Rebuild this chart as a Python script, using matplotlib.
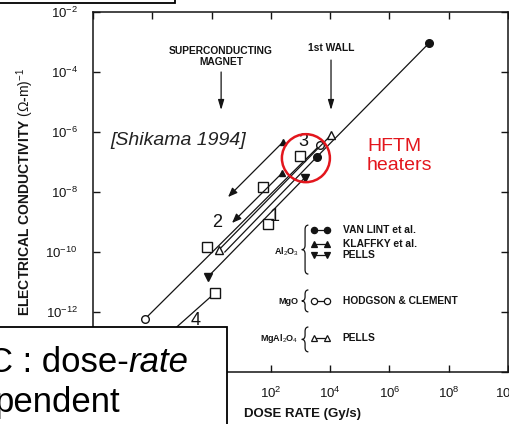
import numpy as np
import matplotlib
matplotlib.use("Agg")
import matplotlib.pyplot as plt
from matplotlib.patches import Rectangle, Ellipse, PathPatch
from matplotlib.path import Path
from matplotlib.text import Annotation
from matplotlib.ticker import FixedLocator, FixedFormatter, NullLocator

plt.rcParams["font.family"] = ["Liberation Sans", "DejaVu Sans"]
plt.rcParams["mathtext.fontset"] = "custom"
plt.rcParams["mathtext.rm"] = "Liberation Sans"
plt.rcParams["mathtext.it"] = "Liberation Sans:italic"
plt.rcParams["mathtext.bf"] = "Liberation Sans:bold"

INK = "#141414"
RED = "#e3161d"

# ---- data: dose rate (Gy/s) vs conductivity (Ohm m)^-1 ----
vanlint_x = [2.8, 3.6e3, 2.2e7]
vanlint_y = [1.0e-10, 1.5e-7, 9.3e-4]
klaffky_a_x = [2.6e2, 3.6]
klaffky_a_y = [4.7e-7, 6.8e-9]
klaffky_b_x = [2.4e2, 4.9]
klaffky_b_y = [4.3e-8, 9.3e-10]
pells_al_x = [0.76, 1.4e3]
pells_al_y = [1.5e-11, 3.0e-8]
hodgson_x = [5.7e-3, 4.6e3]
hodgson_y = [5.9e-13, 3.7e-7]
pells_mgal_x = [1.8, 1.07e4]
pells_mgal_y = [1.2e-10, 7.9e-7]
shikama_x = [9.5e2, 54, 80, 0.70, 1.3]
shikama_y = [1.6e-7, 1.5e-8, 8.5e-10, 1.5e-10, 4.3e-12]
line4_x = [1.3, 1.8e-2]
line4_y = [4.3e-12, 1.0e-13]

num_labels = ["1", "2", "3", "4"]
num_x = [129, 1.5, 1230, 0.30]
num_y = [1.5e-9, 1.0e-9, 5.0e-7, 5.4e-13]

# tick decades; labels hidden under the slide box are left blank
x_exps = [-4, -2, 0, 2, 4, 6, 8, 10]
x_shown = [False, False, False, True, True, True, True, True]
y_exps = [-14, -12, -10, -8, -6, -4, -2]
y_shown = [False, True, True, True, True, True, True]

legend_labels = ["VAN LINT et al.", "KLAFFKY et al.", "PELLS",
                 "HODGSON & CLEMENT", "PELLS"]
legend_markers = ["o", "^", "v", "o", "^"]
legend_filled = [True, True, True, False, False]
group_labels = ["Al$_2$O$_3$", "MgO", "MgAl$_2$O$_4$"]

# ---- figure ----
fig = plt.figure(figsize=(5.09, 4.24), dpi=100)
ax = fig.add_axes([93 / 509, 52 / 424, 415 / 509, 360 / 424])
ax.set_xscale("log")
ax.set_yscale("log")
ax.set_xlim(1e-4, 1e10)
ax.set_ylim(1e-14, 1e-2)

ax.xaxis.set_major_locator(FixedLocator([10.0 ** e for e in x_exps]))
ax.xaxis.set_major_formatter(FixedFormatter(
    [r"$10^{%d}$" % e if s else "" for e, s in zip(x_exps, x_shown)]))
ax.yaxis.set_major_locator(FixedLocator([10.0 ** e for e in y_exps]))
ax.yaxis.set_major_formatter(FixedFormatter(
    [r"$10^{%d}$" % e if s else "" for e, s in zip(y_exps, y_shown)]))
ax.xaxis.set_minor_locator(NullLocator())
ax.yaxis.set_minor_locator(NullLocator())
ax.tick_params(direction="in", length=5, width=1, top=True, right=True,
               labelsize=9.5, colors=INK)
ax.tick_params(axis="y", pad=11)
ax.tick_params(axis="x", pad=10)
for s in ax.spines.values():
    s.set_linewidth(1.1)
    s.set_color(INK)

lk = dict(color=INK, lw=0.9)

# Van Lint (filled circles)
ax.plot(vanlint_x, vanlint_y, **lk)
ax.plot(vanlint_x[1:], vanlint_y[1:], ls="none", marker="o", ms=5.5, color=INK)

# Klaffky (filled triangles, arrows)
for xs, ys in [(klaffky_a_x, klaffky_a_y), (klaffky_b_x, klaffky_b_y)]:
    ax.annotate("", xy=(xs[1], ys[1]), xytext=(xs[0], ys[0]),
                arrowprops=dict(arrowstyle="-|>,head_length=0.55,head_width=0.22",
                                color=INK, lw=0.9, shrinkA=0, shrinkB=0))
    ax.plot(xs[0], ys[0], marker="^", ms=5, color=INK)

# Pells Al2O3 (filled down triangles)
ax.plot(pells_al_x, pells_al_y, marker="v", ms=5.5, **lk)

# Hodgson & Clement MgO (open circles)
ax.plot(hodgson_x, hodgson_y, marker="o", ms=5.5, mfc="white", mec=INK, mew=1, **lk)

# Pells MgAl2O4 (open triangles)
ax.plot(pells_mgal_x, pells_mgal_y, marker="^", ms=6, mfc="white", mec=INK, mew=1, **lk)

# open squares
ax.plot(line4_x, line4_y, **lk)
ax.plot(shikama_x, shikama_y, ls="none", marker="s", ms=6.5, mfc="white",
        mec=INK, mew=1)

for t, x, y in zip(num_labels, num_x, num_y):
    ax.text(x, y, t, fontsize=13, color=INK, ha="center", va="center")

# arrows at top
ax.text(2.1, 3.3e-4, "SUPERCONDUCTING\nMAGNET", fontsize=7.4, fontweight="bold",
        ha="center", va="center", color=INK, linespacing=1.15)
ax.annotate("", xy=(2.1, 5.4e-6), xytext=(2.1, 1.0e-4),
            arrowprops=dict(arrowstyle="-|>,head_length=0.6,head_width=0.18",
                            color=INK, lw=0.9, shrinkA=0, shrinkB=0))
ax.text(1.07e4, 6.3e-4, "1st WALL", fontsize=7.4, fontweight="bold",
        ha="center", va="center", color=INK)
ax.annotate("", xy=(1.07e4, 5.4e-6), xytext=(1.07e4, 2.5e-4),
            arrowprops=dict(arrowstyle="-|>,head_length=0.6,head_width=0.18",
                            color=INK, lw=0.9, shrinkA=0, shrinkB=0))

# legend block (original figure key)
rows_y = [0.394, 0.356, 0.325, 0.197, 0.094]
for lab, m, filled, y in zip(legend_labels, legend_markers, legend_filled, rows_y):
    ax.plot([0.532, 0.563], [y, y], transform=ax.transAxes, marker=m, ms=4.5,
            mfc=INK if filled else "white", mec=INK, mew=0.9, color=INK, lw=0.9)
    ax.text(0.602, y, lab, transform=ax.transAxes, fontsize=7.4, fontweight="bold",
            ha="left", va="center", color=INK)

group_y = [0.335, 0.197, 0.094]
spans = [(0.272, 0.408), (0.167, 0.228), (0.056, 0.125)]
for lab, gy, (y0, y1) in zip(group_labels, group_y, spans):
    ax.text(0.496, gy, lab, transform=ax.transAxes, fontsize=6.5, fontweight="bold",
            ha="right", va="center", color=INK)
    xb, w, d = 0.511, 0.008, 0.012
    ym = (y0 + y1) / 2
    verts = [(xb + w, y1), (xb, y1), (xb, y1 - d), (xb, ym + d), (xb, ym),
             (xb - w, ym), (xb, ym), (xb, ym - d), (xb, y0 + d), (xb, y0),
             (xb + w, y0)]
    codes = [Path.MOVETO, Path.CURVE3, Path.CURVE3, Path.LINETO, Path.CURVE3,
             Path.CURVE3, Path.CURVE3, Path.CURVE3, Path.LINETO, Path.CURVE3,
             Path.CURVE3]
    ax.add_patch(PathPatch(Path(verts, codes), transform=ax.transAxes,
                           fc="none", ec=INK, lw=0.9))

# slide overlays
ax.text(0.041, 0.644, "[Shikama 1994]", transform=ax.transAxes, fontsize=14,
        style="italic", color="#222222", ha="left", va="center")
ax.add_patch(Ellipse((0.513, 0.594), 48 / 415, 48 / 360, transform=ax.transAxes,
                     fc="none", ec=RED, lw=1.8, zorder=5))
ax.text(0.660, 0.600, "HFTM\nheaters", transform=ax.transAxes, fontsize=14,
        color=RED, ha="left", va="center", linespacing=1.15)

fig.text(25 / 509, 232 / 424, r"ELECTRICAL CONDUCTIVITY $(\Omega$-$\mathrm{m})^{-1}$",
         rotation=90, fontsize=10, fontweight="bold", ha="center", va="center",
         color=INK)
fig.text(302 / 509, 10 / 424, "DOSE RATE (Gy/s)", fontsize=9.5, fontweight="bold",
         ha="center", va="center", color=INK)

# boxes on top of the figure
fig.add_artist(Rectangle((-0.05, 421 / 424), 0.05 + 175 / 509, 0.05,
                         transform=fig.transFigure, fc="white", ec="black",
                         lw=1.3, zorder=10))
fig.add_artist(Rectangle((-0.05, -0.05), 0.05 + 227 / 509, 0.05 + 97 / 424,
                         transform=fig.transFigure, fc="white", ec="black",
                         lw=1.3, zorder=10))
t1 = fig.text(-12 / 509, 52 / 424, "C : dose-", fontsize=25, va="baseline",
              ha="left", color="black", zorder=11)
fig.add_artist(Annotation("rate", xy=(1, 0), xycoords=t1, fontsize=25,
                          style="italic", ha="left", va="bottom", color="black",
                          zorder=11))
fig.text(-5 / 509, 12 / 424, "pendent", fontsize=25, va="baseline",
         ha="left", color="black", zorder=11)

fig.savefig("out.png", dpi=100)
